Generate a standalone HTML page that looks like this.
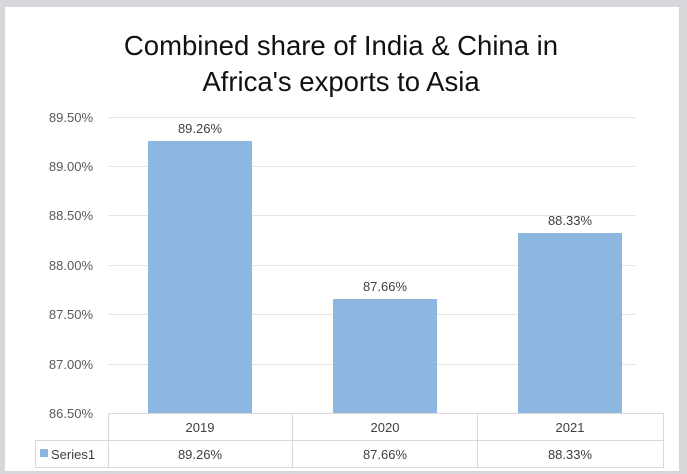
<!DOCTYPE html>
<html><head><style>
body{margin:0;background:#d5d7da;}
svg{display:block;font-family:"Liberation Sans",sans-serif;}
</style></head><body>
<svg width="687" height="474" viewBox="0 0 687 474">
<rect x="0" y="0" width="687" height="474" fill="#d5d7da"/>
<rect x="5" y="7" width="674" height="464" fill="#fff"/>
<text x="341" y="55" text-anchor="middle" font-size="27.5" fill="#111">Combined share of India &amp; China in</text>
<text x="341" y="91" text-anchor="middle" font-size="27.5" fill="#111">Africa's exports to Asia</text>
<g stroke="#e4e4e4" stroke-width="1">
<line x1="108" x2="636" y1="117.5" y2="117.5"/>
<line x1="108" x2="636" y1="166.5" y2="166.5"/>
<line x1="108" x2="636" y1="215.5" y2="215.5"/>
<line x1="108" x2="636" y1="265.5" y2="265.5"/>
<line x1="108" x2="636" y1="314.5" y2="314.5"/>
<line x1="108" x2="636" y1="364.5" y2="364.5"/>
</g>
<g font-size="13" fill="#595959" text-anchor="end">
<text x="93" y="122">89.50%</text>
<text x="93" y="171">89.00%</text>
<text x="93" y="220">88.50%</text>
<text x="93" y="270">88.00%</text>
<text x="93" y="319">87.50%</text>
<text x="93" y="369">87.00%</text>
<text x="93" y="418">86.50%</text>
</g>
<g fill="#8db7e1">
<rect x="148" y="141" width="104" height="272"/>
<rect x="333" y="299" width="104" height="114"/>
<rect x="518" y="233" width="104" height="180"/>
</g>
<g font-size="13" fill="#404040" text-anchor="middle">
<text x="200" y="133">89.26%</text>
<text x="385" y="291">87.66%</text>
<text x="570" y="225">88.33%</text>
</g>
<g stroke="#d9d9d9" stroke-width="1" fill="none">
<line x1="108" x2="664" y1="413.5" y2="413.5"/>
<line x1="35" x2="664" y1="440.5" y2="440.5"/>
<line x1="35" x2="664" y1="467.5" y2="467.5"/>
<line x1="35.5" x2="35.5" y1="440" y2="468"/>
<line x1="108.5" x2="108.5" y1="413" y2="468"/>
<line x1="292.5" x2="292.5" y1="413" y2="468"/>
<line x1="477.5" x2="477.5" y1="413" y2="468"/>
<line x1="663.5" x2="663.5" y1="413" y2="468"/>
</g>
<g font-size="13" fill="#404040" text-anchor="middle">
<text x="200" y="432">2019</text>
<text x="385" y="432">2020</text>
<text x="570" y="432">2021</text>
<text x="200" y="459">89.26%</text>
<text x="385" y="459">87.66%</text>
<text x="570" y="459">88.33%</text>
</g>
<rect x="40" y="449" width="8" height="8" fill="#8db7e1"/>
<text x="51" y="459" font-size="13" fill="#404040">Series1</text>
</svg>
</body></html>
